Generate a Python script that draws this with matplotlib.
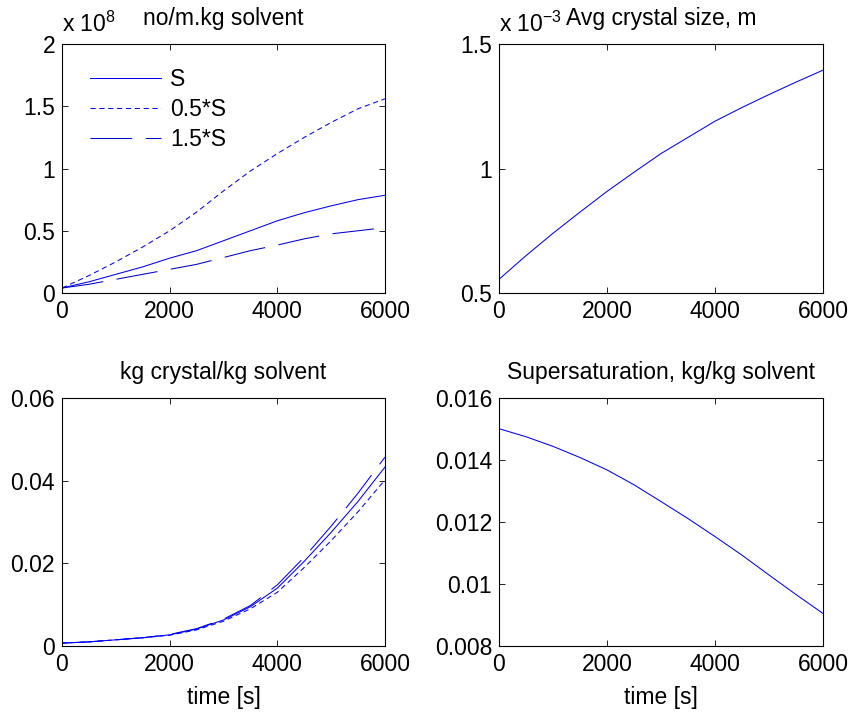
import numpy as np
import matplotlib
matplotlib.use("Agg")
import matplotlib.pyplot as plt

plt.rcParams["font.family"] = ["Liberation Sans", "DejaVu Sans"]
plt.rcParams["mathtext.fontset"] = "custom"
plt.rcParams["mathtext.rm"] = "Liberation Sans"

# ----------------------------------------------------------------------
# data (time in s)
# ----------------------------------------------------------------------
t = [0, 500, 1000, 1500, 2000, 2500, 3000, 3500, 4000, 4500, 5000, 5500, 6000]

# number of crystals, no/m.kg solvent (x 1e8)
n_S = [0.04, 0.09, 0.15, 0.21, 0.28, 0.34, 0.42, 0.50, 0.58, 0.645, 0.70, 0.75, 0.785]
n_05S = [0.04, 0.14, 0.25, 0.37, 0.50, 0.65, 0.82, 0.98, 1.12, 1.25, 1.37, 1.48, 1.56]
n_15S = [0.04, 0.07, 0.11, 0.15, 0.19, 0.23, 0.285, 0.34, 0.385, 0.435, 0.475, 0.50, 0.525]

# average crystal size, m (x 1e-3)
L_avg = [0.555, 0.65, 0.74, 0.825, 0.908, 0.985, 1.06, 1.125, 1.19, 1.245, 1.297, 1.347, 1.395]

# kg crystal / kg solvent
m_S = [0.0007, 0.0010, 0.0015, 0.0020, 0.0027, 0.0041, 0.0063, 0.0095, 0.0140, 0.0205, 0.0275, 0.0350, 0.0433]
m_05S = [0.0007, 0.0010, 0.0015, 0.0020, 0.0026, 0.0039, 0.0060, 0.0090, 0.0130, 0.0190, 0.0255, 0.0325, 0.0402]
m_15S = [0.0007, 0.0010, 0.0015, 0.0020, 0.0028, 0.0042, 0.0065, 0.0098, 0.0148, 0.0215, 0.0290, 0.0370, 0.0457]

# supersaturation, kg/kg solvent
supersat = [0.01501, 0.01475, 0.01444, 0.01408, 0.01368, 0.01320, 0.01266, 0.01211, 0.01153, 0.01093, 0.01029, 0.00966, 0.00905]

labels = ["S", "0.5*S", "1.5*S"]
styles = [dict(ls="-"), dict(dashes=(5, 3.5)), dict(dashes=(40, 13))]

fig = plt.figure(figsize=(8.52, 7.13), dpi=100)
W, H = 852, 713


def make_ax(l, r, top, bot):
    return fig.add_axes([l / W, 1 - bot / H, (r - l) / W, (bot - top) / H])


def style_ax(ax):
    ax.tick_params(direction="in", top=True, right=True, length=4, width=0.6, labelsize=fs, pad=5)
    for sp in ax.spines.values():
        sp.set_linewidth(0.8)
    ax.set_xlim(0, 6000)
    ax.set_xticks([0, 2000, 4000, 6000])


fs = 16.5
lw = 0.75

# top-left: number of crystals
ax1 = make_ax(62, 385, 44, 293)
ax1.plot(t, n_S, color="blue", lw=lw, label=labels[0], **styles[0])
ax1.plot(t, n_05S, color="blue", lw=lw, label=labels[1], **styles[1])
ax1.plot(t, n_15S, color="#0000c8", lw=lw, label=labels[2], **styles[2])
style_ax(ax1)
ax1.set_ylim(0, 2)
ax1.set_yticks([0, 0.5, 1, 1.5, 2])
ax1.set_yticklabels(["0", "0.5", "1", "1.5", "2"])
ax1.set_title("no/m.kg solvent", fontsize=fs, pad=14)
ax1.text(0.0, 1.03, r"x 10$^{8}$", transform=ax1.transAxes, fontsize=fs, ha="left", va="bottom")
ax1.legend(loc="upper left", frameon=False, fontsize=fs, handlelength=3.1,
           handletextpad=0.4, labelspacing=0.3, borderaxespad=0,
           bbox_to_anchor=(0.058, 0.94))

# top-right: average crystal size
ax2 = make_ax(499, 823, 44, 293)
ax2.plot(t, L_avg, color="blue", lw=lw)
style_ax(ax2)
ax2.set_ylim(0.5, 1.5)
ax2.set_yticks([0.5, 1, 1.5])
ax2.set_yticklabels(["0.5", "1", "1.5"])
ax2.set_title("Avg crystal size, m", fontsize=fs, pad=14)
ax2.text(0.0, 1.03, r"x 10$^{-3}$", transform=ax2.transAxes, fontsize=fs, ha="left", va="bottom")

# bottom-left: crystal mass
ax3 = make_ax(62, 385, 398, 646)
ax3.plot(t, m_S, color="blue", lw=lw, **styles[0])
ax3.plot(t, m_05S, color="blue", lw=lw, **styles[1])
ax3.plot(t, m_15S, color="blue", lw=lw, **styles[2])
style_ax(ax3)
ax3.set_ylim(0, 0.06)
ax3.set_yticks([0, 0.02, 0.04, 0.06])
ax3.set_yticklabels(["0", "0.02", "0.04", "0.06"])
ax3.set_title("kg crystal/kg solvent", fontsize=fs, pad=14)
ax3.set_xlabel("time [s]", fontsize=fs, labelpad=7)

# bottom-right: supersaturation
ax4 = make_ax(499, 823, 398, 646)
ax4.plot(t, supersat, color="blue", lw=lw)
style_ax(ax4)
ax4.set_ylim(0.008, 0.016)
ax4.set_yticks([0.008, 0.010, 0.012, 0.014, 0.016])
ax4.set_yticklabels(["0.008", "0.01", "0.012", "0.014", "0.016"])
ax4.set_title("Supersaturation, kg/kg solvent", fontsize=fs, pad=14)
ax4.set_xlabel("time [s]", fontsize=fs, labelpad=7)

fig.savefig("out.png", dpi=100)
